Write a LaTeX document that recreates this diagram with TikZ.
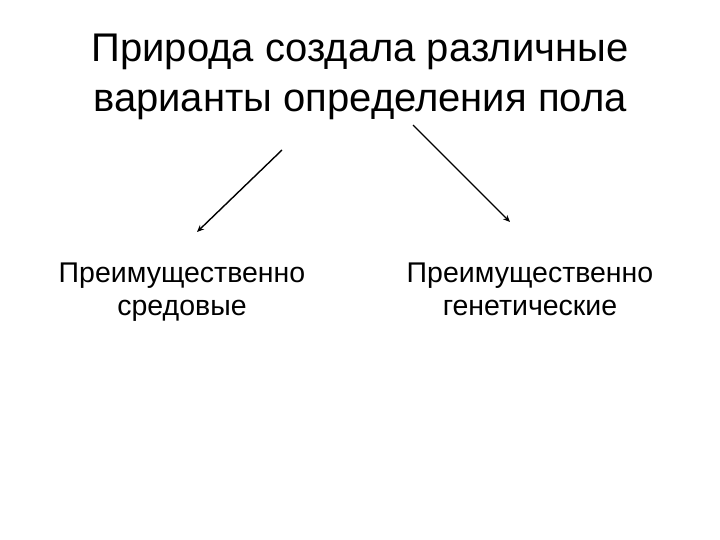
\documentclass[tikz,border=0pt]{standalone}
\usepackage{fontspec}
\setmainfont{Liberation Sans}
\usetikzlibrary{arrows.meta}

\tikzset{
  headline/.style={align=center,inner sep=0pt,font=\fontsize{40}{50.5}\selectfont},
  kind/.style={align=center,inner sep=0pt,font=\fontsize{28.5}{33}\selectfont},
  branch/.style={line width=1.4pt,-{Stealth[length=7pt,width=6pt]}}
}

\begin{document}
\begin{tikzpicture}[x=1pt,y=-1pt]
\useasboundingbox (0,0) rectangle (720,540);
\node[headline,anchor=north] (title) at (360,33.4) {Природа создала различные\\варианты определения пола};
\node[kind,anchor=north] (env) at (182,262.6) {Преимущественно\\средовые};
\node[kind,anchor=north] (gen) at (530,262.6) {Преимущественно\\генетические};
% arrow ends
\coordinate (lstart) at (282,150);
\coordinate (lend) at (197,232);
\coordinate (rstart) at (413,125);
\coordinate (rend) at (510,222);
\draw[branch] (lstart) -- (lend);
\draw[branch] (rstart) -- (rend);
\end{tikzpicture}
\end{document}
